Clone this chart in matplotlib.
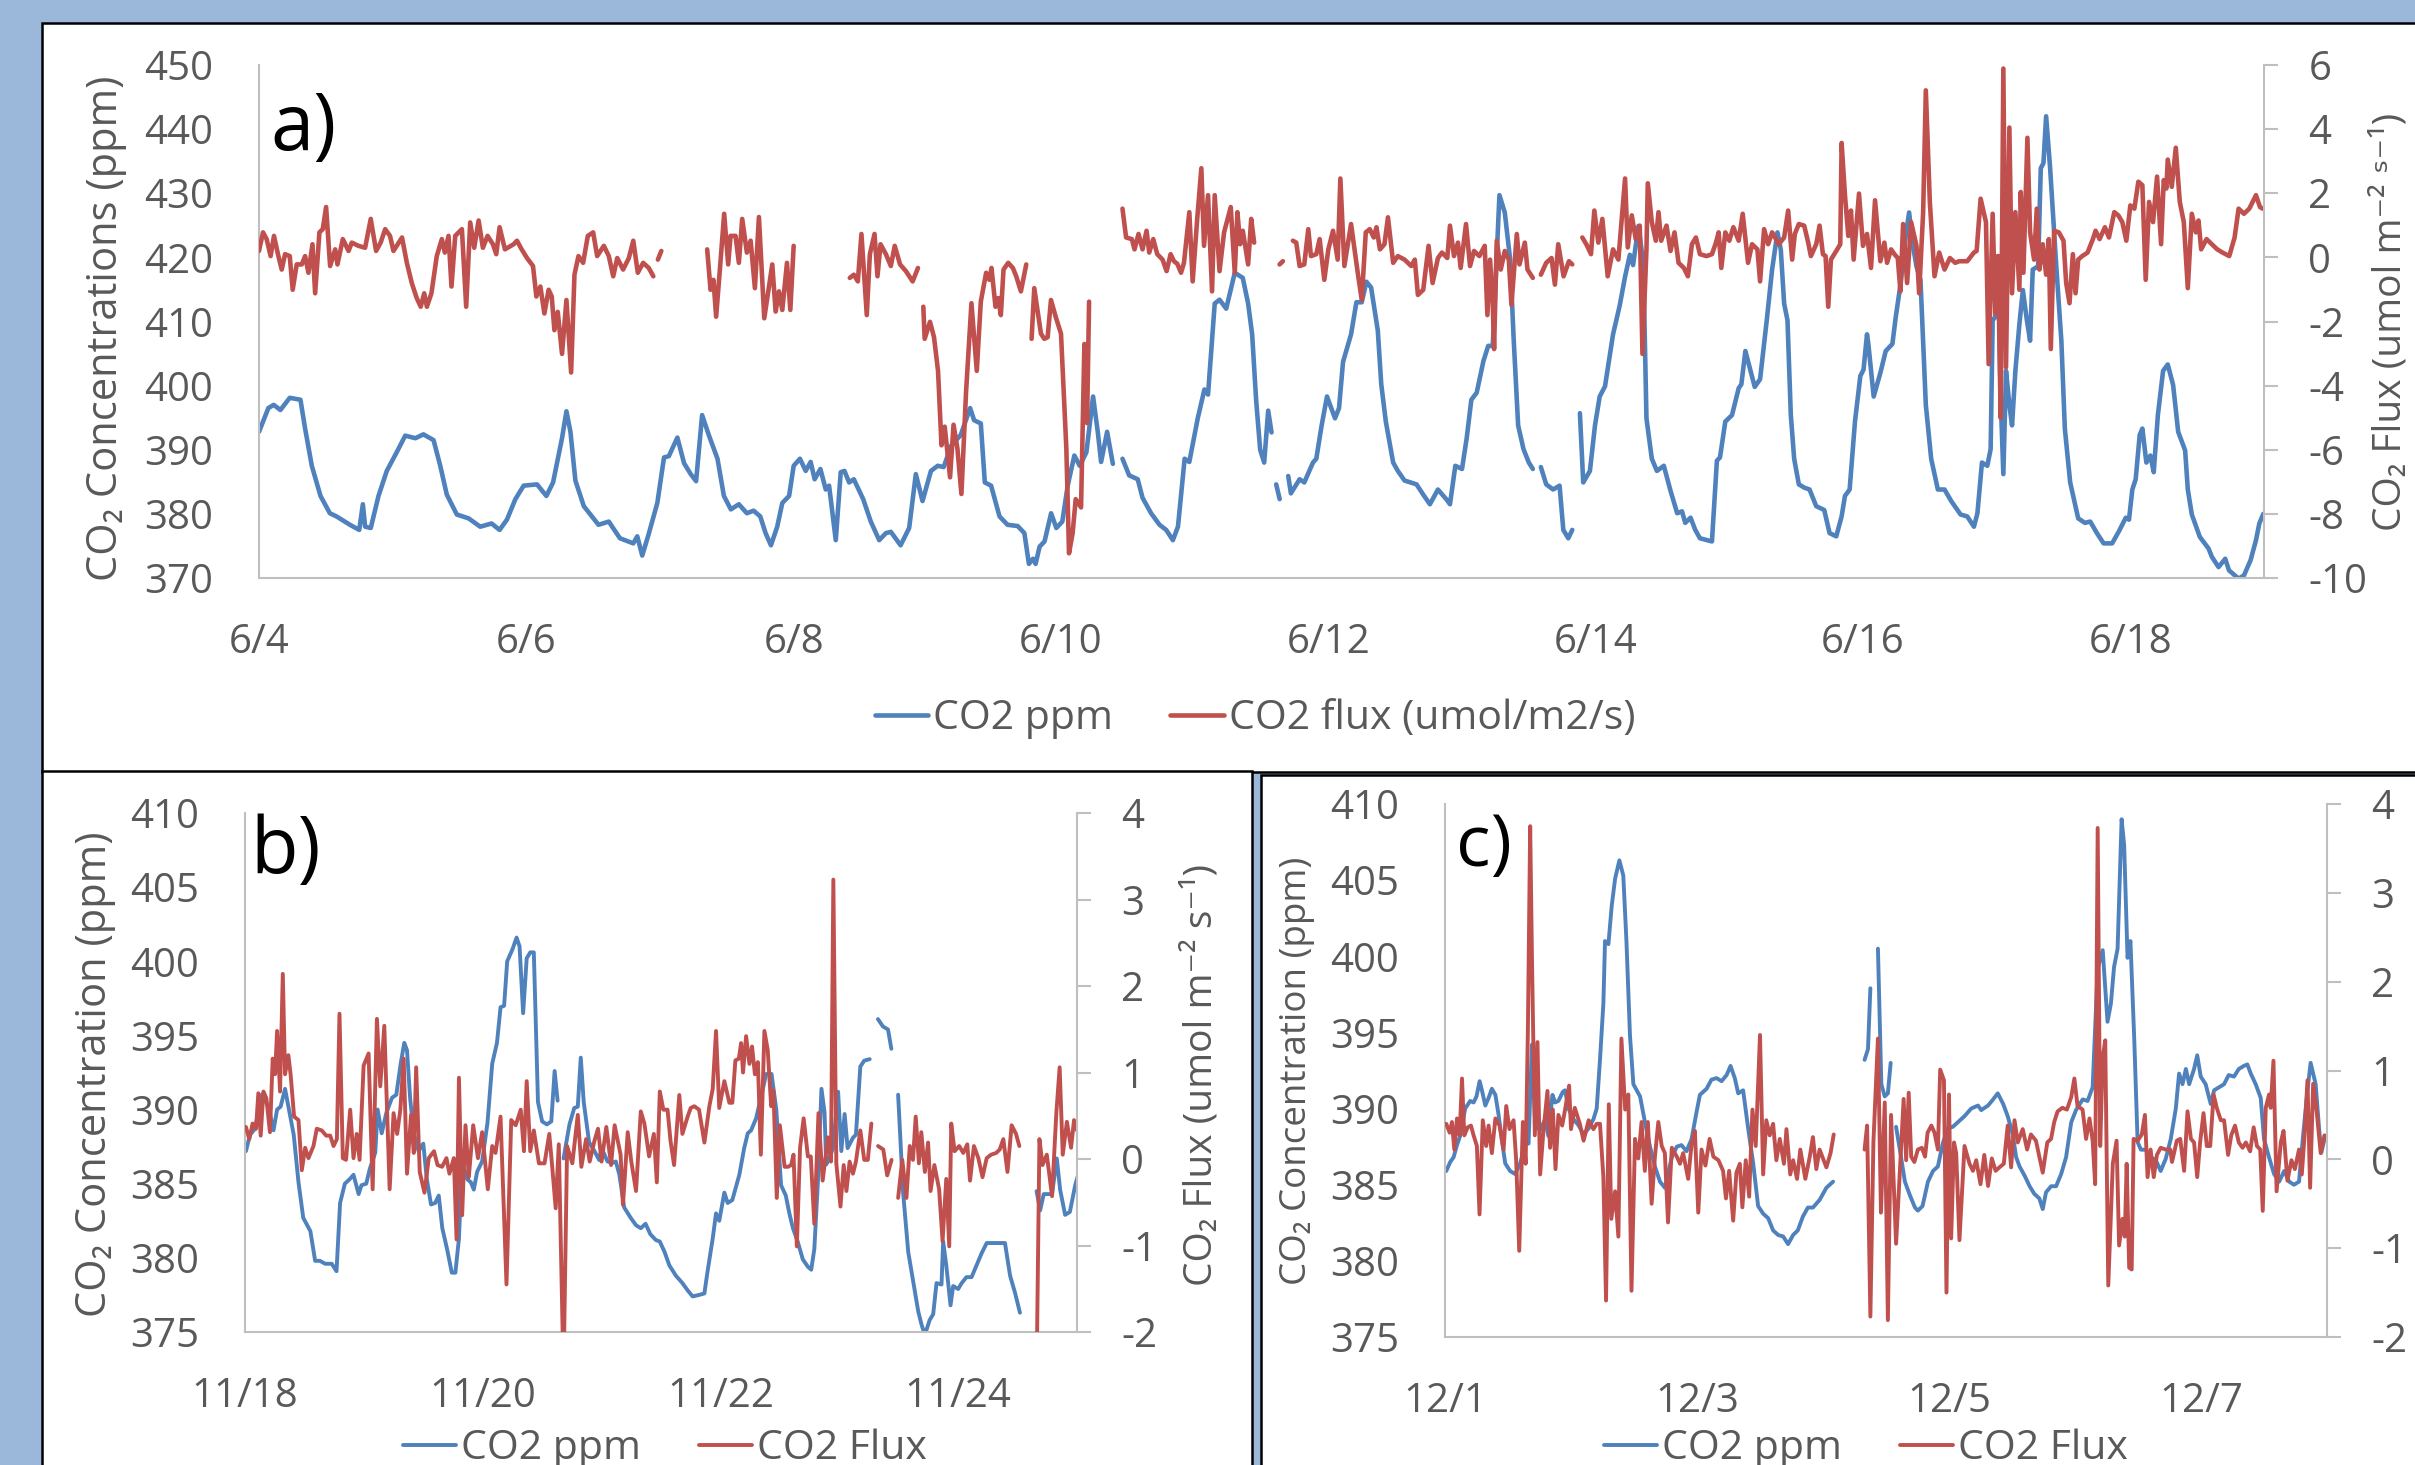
import numpy as np
import matplotlib
matplotlib.use('Agg')
import matplotlib.pyplot as plt
from matplotlib.patches import Rectangle

plt.rcParams['font.family'] = ['Open Sans', 'DejaVu Sans']
plt.rcParams['axes.unicode_minus'] = False

W, H = 2415, 1465
BG = '#9bb8db'
BLUE = '#4f81bd'
RED = '#c0504d'
GREY = '#595959'
AXIS = '#bfbfbf'

# ---------------- panel a: June (days after 6/4 00:00) ----------------
a_ticks = [0, 2, 4, 6, 8, 10, 12, 14]
a_tick_labels = ['6/4', '6/6', '6/8', '6/10', '6/12', '6/14', '6/16', '6/18']

a_ppm_t = [0.00, 0.07, 0.11, 0.16, 0.23, 0.31, 0.345, 0.395, 0.46, 0.53, 0.58, 0.68, 0.75, 0.777, 0.794,
           0.836, 0.894, 0.956, 1.03, 1.094, 1.17, 1.23, 1.306, 1.356, 1.405, 1.48, 1.568, 1.655, 1.74,
           1.80, 1.855, 1.918, 1.98, 2.08, 2.15, 2.20, 2.267, 2.30, 2.33, 2.367, 2.43, 2.54, 2.617, 2.70,
           2.80, 2.83, 2.867, 2.916, 2.98, 3.03, 3.066, 3.13, 3.18, 3.23, 3.27, 3.315, 3.365, 3.43, 3.478,
           3.53, 3.59, 3.65, 3.70, 3.75, 3.79, 3.83, 3.877, 3.915, 3.966, 4.00, 4.047, 4.09, 4.127, 4.157,
           4.20, 4.24, 4.265, 4.315, 4.352, 4.38, 4.415, 4.45, 4.52, 4.577, 4.64, 4.69, 4.727, 4.80, 4.864,
           4.914, 4.964, 5.027, 5.078, 5.122, 5.18, 5.25, 5.32, 5.35, 5.40, 5.43, 5.477, 5.54, 5.60, 5.676,
           5.726, 5.76, 5.79, 5.81, 5.84, 5.877, 5.926, 5.965, 6.01, 6.05, 6.10, 6.14, 6.19, 6.24, 6.275,
           6.30, 6.345, 6.388, 6.42, 6.46, 6.51, 6.574, 6.61, 6.674, 6.737, 6.787, 6.837, 6.875, 6.925,
           6.96, 7.023, 7.073, 7.10, 7.15, 7.186, 7.236, 7.30, 7.36, 7.40, 7.43, 7.46, 7.49, 7.52, 7.55,
           7.575, 7.59, 7.61, 7.636, 7.67, 7.70, 7.72, 7.785, 7.82, 7.885, 7.91, 7.95, 7.99, 8.05, 8.08,
           8.11, 8.17, 8.21, 8.25, 8.285, 8.32, 8.37, 8.396, 8.43, 8.485, 8.52, 8.57, 8.66, 8.71, 8.76,
           8.82, 8.886, 8.91, 8.95, 9.00, 9.035, 9.07, 9.11, 9.16, 9.196, 9.23, 9.28, 9.32, 9.36, 9.386,
           9.42, 9.46, 9.50, 9.53, 9.56, 9.59, 9.63, 9.682, 9.73, 9.758, 9.795, 9.825, 9.85, 9.882, 9.907,
           9.957, 9.995, 10.03, 10.07, 10.13, 10.18, 10.22, 10.256, 10.28, 10.32, 10.356, 10.38, 10.42,
           10.458, 10.51, 10.56, 10.61, 10.646, 10.67, 10.71, 10.745, 10.78, 10.87, 10.907, 10.93, 10.97,
           11.02, 11.07, 11.09, 11.12, 11.15, 11.19, 11.23, 11.28, 11.32, 11.36, 11.385, 11.41, 11.435,
           11.46, 11.485, 11.52, 11.56, 11.60, 11.65, 11.71, 11.75, 11.80, 11.84, 11.865, 11.90, 11.94,
           11.98, 12.004, 12.03, 12.04, 12.08, 12.13, 12.17, 12.22, 12.245, 12.28, 12.32, 12.345, 12.37,
           12.40, 12.43, 12.47, 12.51, 12.56, 12.61, 12.66, 12.73, 12.78, 12.83, 12.856, 12.89, 12.93,
           12.955, 12.97, 12.99, 13.01, 13.03, 13.05, 13.07, 13.095, 13.115, 13.14, 13.17, 13.196, 13.226,
           13.25, 13.27, 13.31, 13.33, 13.35, 13.37, 13.40, 13.446, 13.484, 13.51, 13.55, 13.61, 13.66,
           13.70, 13.75, 13.80, 13.864, 13.915, 13.966, 13.99, 14.015, 14.04, 14.07, 14.09, 14.12, 14.15,
           14.175, 14.206, 14.245, 14.28, 14.32, 14.358, 14.41, 14.43, 14.46, 14.52, 14.585, 14.61, 14.66,
           14.71, 14.738, 14.81, 14.85, 14.90, 14.94, 14.965, 14.995]
a_ppm = [392.8, 396.5, 397.0, 396.2, 398.1, 397.8, 393.3, 387.5, 382.8, 380.1, 379.6, 378.3, 377.5, 381.5, 378.0,
         377.8, 382.8, 386.7, 389.6, 392.2, 391.8, 392.4, 391.5, 387.5, 383.0, 379.9, 379.3, 378.0, 378.5,
         377.5, 379.1, 382.3, 384.4, 384.6, 382.8, 384.9, 391.8, 396.0, 392.8, 385.2, 381.2, 378.3, 378.8, 376.2,
         375.4, 376.5, 373.5, 376.9, 381.7, 388.8, 389.0, 391.9, 387.9, 386.2, 385.1, 395.4, 392.3, 388.6, 382.8,
         380.7, 381.5, 380.1, 380.5, 379.6, 377.0, 375.1, 378.0, 381.7, 382.8, 387.5, 388.6, 386.7, 388.1, 385.4,
         387.0, 383.8, 384.4, 375.9, 386.5, 386.7, 384.9, 385.4, 382.3, 378.8, 375.9, 377.0, 377.2, 375.1, 377.8,
         386.2, 382.0, 386.7, 387.5, 387.3, 390.7, 392.3, 396.5, 394.6, 394.1, 384.9, 384.4, 379.6, 378.3, 378.1,
         377.0, 372.2, 373.0, 372.2, 374.9, 375.7, 380.1, 377.8, 378.8, 384.4, 389.1, 387.5, 389.6, 398.3, 392.8,
         388.1, 392.8, 387.8, None, 388.6, 386.0, 385.4, 382.5, 380.1, 378.3, 377.5, 375.9, 378.0, 388.6,
         388.1, 394.9, 399.4, 398.6, 412.8, 413.4, 412.0, 417.6, 416.8, 412.8, 408.0, 397.7, 390.0, 388.0, 396.1,
         392.7, None, 384.6, 382.3, None, 385.9, 383.2, 385.4, 384.9, 388.0, 388.6, 393.8, 398.3, 394.9, 396.5,
         403.7, 408.0, 413.0, 413.0, 416.2, 415.3, 408.6, 400.2, 394.4, 388.0, 386.7, 385.2, 384.6, 383.0, 381.5,
         383.8, 382.2, 381.5, 387.5, 387.0, 391.8, 397.8, 398.9, 403.8, 406.2, 406.2, 429.7, 427.0, 419.7, 407.5,
         393.8, 390.1, 388.0, 387.0, None, 387.3, 384.6, 383.8, 384.4, 377.5, 376.2, 377.5, None, 395.7, 384.9,
         386.7, 393.8, 398.3, 399.9, 408.0, 412.5, 417.0, 420.4, 418.8, 424.9, 419.1, 394.9, 388.6,
         386.7, 387.5, 383.6, 380.1, 380.4, 378.6, 379.4, 377.5, 376.2, 375.7, 388.3, 388.8, 394.4,
         395.4, 399.6, 400.2, 405.4, 403.0, 399.8, 401.0, 410.2, 418.1, 423.9, 421.2, 412.8, 410.2,
         395.4, 388.6, 384.6, 384.1, 383.8, 381.2, 380.6, 377.0, 376.5, 379.6, 382.8, 383.8, 394.4,
         401.5, 402.5, 408.0, 406.5, 398.3, 402.0, 405.4, 406.5, 410.7, 415.7, 423.4, 427.0, 422.3,
         418.6, 416.5, 397.0, 388.6, 383.8, 383.8, 382.0, 379.9, 379.6, 378.0, 380.1, 388.0, 387.5,
         390.1, 410.2, 410.7, 420.2, 398.0, 386.2, 402.3, 397.0, 393.8, 402.3, 409.6, 414.9, 410.2,
         407.0, 418.1, 418.6, 433.9, 434.7, 442.0, 433.9, 418.6, 407.0, 393.3, 384.9, 379.3, 378.6,
         378.8, 377.0, 375.4, 375.4, 377.3, 379.4, 379.1, 383.8, 385.4, 392.3, 393.3, 388.0, 389.1,
         386.5, 395.4, 402.3, 403.3, 400.1, 392.8, 389.9, 383.8, 379.9, 376.4, 374.6, 373.3, 371.7,
         373.0, 371.2, 369.9, 370.4, 372.8, 375.9, 378.5, 380.0]

a_flux_t = [0.00, 0.03, 0.057, 0.087, 0.112, 0.145, 0.17, 0.195, 0.23, 0.252, 0.282, 0.32, 0.345, 0.37, 0.40,
            0.42, 0.452, 0.477, 0.502, 0.532, 0.57, 0.587, 0.627, 0.67, 0.694, 0.744, 0.794, 0.836, 0.876,
            0.91, 0.944, 0.98, 1.006, 1.07, 1.106, 1.143, 1.18, 1.21, 1.236, 1.256, 1.29, 1.33, 1.368, 1.39,
            1.418, 1.44, 1.468, 1.518, 1.55, 1.58, 1.61, 1.643, 1.675, 1.71, 1.75, 1.775, 1.80, 1.84, 1.905,
            1.93, 1.965, 2.005, 2.05, 2.075, 2.105, 2.135, 2.167, 2.19, 2.21, 2.235, 2.267, 2.30, 2.335, 2.36,
            2.39, 2.425, 2.46, 2.50, 2.53, 2.58, 2.617, 2.65, 2.68, 2.724, 2.767, 2.80, 2.834, 2.874, 2.916,
            2.95, 2.97, 2.984, 3.01, 3.2, 3.353, 3.378, 3.40, 3.42, 3.45, 3.48, 3.51, 3.528, 3.565, 3.59,
            3.615, 3.65, 3.678, 3.71, 3.74, 3.78, 3.84, 3.865, 3.89, 3.915, 3.95, 3.975, 4.00, 4.2, 4.42,
            4.45, 4.48, 4.507, 4.547, 4.57, 4.605, 4.627, 4.65, 4.69, 4.727, 4.756, 4.796, 4.84, 4.89, 4.93,
            4.95, 4.97, 4.98, 5.02, 5.05, 5.08, 5.106, 5.13, 5.17, 5.196, 5.225, 5.255, 5.29, 5.33, 5.37,
            5.40, 5.44, 5.464, 5.48, 5.51, 5.53, 5.55, 5.57, 5.605, 5.64, 5.665, 5.70, 5.74, 5.76, 5.78,
            5.80, 5.85, 5.875, 5.90, 5.925, 5.96, 6.00, 6.04, 6.06, 6.087, 6.11, 6.15, 6.175, 6.195, 6.21,
            6.3, 6.46, 6.487, 6.53, 6.55, 6.58, 6.61, 6.64, 6.66, 6.69, 6.72, 6.76, 6.79, 6.82, 6.845, 6.87,
            6.898, 6.92, 6.96, 6.985, 7.02, 7.05, 7.07, 7.10, 7.13, 7.15, 7.186, 7.22, 7.27, 7.30, 7.32,
            7.34, 7.36, 7.40, 7.423, 7.445, 7.55, 7.635, 7.66, 7.70, 7.735, 7.76, 7.785, 7.82, 7.85, 7.87,
            7.91, 7.935, 7.97, 8.00, 8.035, 8.07, 8.09, 8.12, 8.17, 8.22, 8.25, 8.28, 8.31, 8.34, 8.36,
            8.386, 8.42, 8.446, 8.485, 8.52, 8.57, 8.62, 8.647, 8.67, 8.71, 8.75, 8.78, 8.82, 8.85, 8.89,
            8.91, 8.94, 8.97, 8.99, 9.03, 9.06, 9.09, 9.13, 9.17, 9.19, 9.21, 9.23, 9.24, 9.26, 9.29, 9.32,
            9.35, 9.37, 9.41, 9.43, 9.47, 9.49, 9.53, 9.56, 9.59, 9.63, 9.67, 9.695, 9.72, 9.76, 9.80,
            9.825, 9.86, 9.90, 9.93, 9.965, 9.99, 10.02, 10.05, 10.09, 10.13, 10.17, 10.22, 10.24, 10.27,
            10.30, 10.33, 10.35, 10.38, 10.39, 10.42, 10.45, 10.47, 10.49, 10.53, 10.56, 10.59, 10.62,
            10.66, 10.69, 10.72, 10.75, 10.78, 10.83, 10.87, 10.90, 10.92, 10.94, 10.97, 11.00, 11.03,
            11.07, 11.10, 11.14, 11.17, 11.21, 11.23, 11.26, 11.29, 11.32, 11.37, 11.41, 11.44, 11.47,
            11.49, 11.52, 11.56, 11.59, 11.61, 11.65, 11.675, 11.70, 11.72, 11.74, 11.76, 11.80, 11.83,
            11.84, 11.865, 11.89, 11.91, 11.93, 11.97, 12.00, 12.03, 12.06, 12.09, 12.13, 12.16, 12.18,
            12.21, 12.235, 12.26, 12.28, 12.30, 12.33, 12.36, 12.40, 12.42, 12.45, 12.47, 12.50, 12.535,
            12.57, 12.61, 12.65, 12.69, 12.72, 12.78, 12.83, 12.85, 12.88, 12.92, 12.94, 12.97, 12.99,
            13.01, 13.03, 13.05, 13.07, 13.095, 13.115, 13.14, 13.17, 13.18, 13.20, 13.23, 13.25, 13.28,
            13.30, 13.32, 13.345, 13.37, 13.39, 13.405, 13.43, 13.465, 13.50, 13.52, 13.545, 13.57, 13.59,
            13.61, 13.64, 13.68, 13.72, 13.74, 13.77, 13.81, 13.84, 13.88, 13.91, 13.94, 13.97, 14.00,
            14.03, 14.06, 14.09, 14.115, 14.14, 14.17, 14.20, 14.23, 14.25, 14.27, 14.28, 14.31, 14.34,
            14.37, 14.40, 14.43, 14.46, 14.49, 14.51, 14.53, 14.57, 14.61, 14.65, 14.69, 14.74, 14.78,
            14.81, 14.85, 14.89, 14.94, 14.97, 14.99]
a_flux = [0.20, 0.78, 0.57, 0.04, 0.67, 0.04, -0.38, 0.10, 0.04, -1.01, -0.22, -0.22, 0.04, -0.48, 0.41,
          -1.12, 0.78, 0.88, 1.57, -0.27, 0.25, -0.22, 0.57, 0.20, 0.46, 0.36, 0.30, 1.20, 0.20,
          0.46, 0.88, 0.67, 0.20, 0.62, -0.17, -0.80, -1.27, -1.54, -1.12, -1.54, -1.12, 0.04, 0.57, 0.15,
          0.67, -0.91, 0.67, 0.88, -1.54, 1.09, 0.30, 1.15, 0.30, 0.67, 0.41, 0.10, 0.94, 0.25, 0.41,
          0.52, 0.25, -0.02, -0.27, -1.22, -0.91, -1.75, -1.01, -1.22, -2.27, -1.70, -3.01, -1.33, -3.59, -0.54,
          0.04, -0.17, 0.67, 0.78, 0.04, 0.36, 0.04, -0.59, -0.02, -0.38, -0.02, 0.52, -0.48, -0.17, -0.33,
          -0.59, None, -0.07, 0.20, None, 0.25, -1.01, -0.70, -1.85, -0.27, 1.36, -0.22, 0.67, 0.67, -0.17,
          1.20, 0.15, 0.52, -0.96, 1.26, -1.90, -0.22, -1.69, -1.06, -1.64, -0.17, -1.64, 0.36, None, -0.64,
          -0.54, -0.75, 0.73, -1.80, 0.10, 0.73, -0.59, 0.41, 0.10, -0.27, 0.36, -0.22, -0.43, -0.75, -0.33,
          None, -1.54, -2.54, -2.01, -2.49, -3.54, -5.86, -5.28, -6.86, -5.22, -5.96, -7.38, -4.17, -1.43, -3.54,
          -1.38, -0.48, -0.70, -0.33, -1.54, -1.27, -1.80, -0.38, -0.17, -0.33, -0.59, -1.06, -0.22, None, -2.54,
          -0.96, -2.38, -2.54, -2.49, -1.33, -1.85, -2.38, -5.96, -9.23, -8.60, -7.54, -7.80, -2.70, -5.17, -1.38,
          None, 1.52, 0.62, 0.57, 0.25, 0.73, 0.25, 0.83, 0.15, 0.57, 0.10, -0.07, -0.43, 0.10, -0.12, -0.20,
          -0.48, -0.17, 1.41, -0.75, 1.25, 2.78, 0.36, 1.94, -1.06, 1.94, -0.43, 0.78, 1.57, -0.48, 1.41,
          0.41, 0.83, -0.22, 1.20, 0.46, None, -0.22, -0.12, None, 0.52, 0.46, -0.27, -0.22, 0.88, 0.04,
          0.10, 0.57, -0.70, 0.25, 0.83, -0.07, 2.46, -0.27, 1.04, -0.48, -1.33, 0.78, 0.88, 0.62, 0.94,
          0.25, 0.41, 1.25, -0.17, 0.04, -0.07, -0.27, -0.07, -1.17, -1.01, 0.36, -0.80, -0.02, 0.15, -0.02,
          0.99, 0.04, 0.46, -0.33, 1.04, -0.27, 0.20, 0.04, 0.36, -1.80, -0.07, -1.43, -2.86, 0.52, -0.38, 0.20,
          -0.07, -1.48, 0.73, -0.22, 0.46, -0.38, -0.64, None, -0.54, -0.17, -0.02, -0.85, 0.41, -0.59, -0.12,
          -0.22, None, 0.62, 0.41, 0.10, 1.46, 0.46, 1.20, -0.59, 0.25, -0.07, 2.46, 0.31, 1.31,
          0.57, 0.99, -3.01, 0.25, 2.31, 1.10, 0.52, 1.41, 0.52, 0.99, 0.20, 0.78, -0.17,
          -0.33, -0.59, 0.41, 0.62, 0.10, 0.04, 0.10, 0.46, 0.78, -0.33, 0.78, 0.52, 0.94,
          0.52, 1.36, -0.17, 0.41, 0.25, -0.75, 0.88, 0.41, 0.78, 0.41, 0.62, 1.46, -0.07,
          0.73, 1.04, 0.99, 0.46, 0.04, 0.41, 0.99, 0.10, 0.04, -1.54, -0.07, 0.20, 0.41,
          3.57, 1.94, 0.67, 1.46, -0.07, 1.99, 0.36, 0.73, -0.33, 1.78, -0.12, 0.46, -0.17,
          0.25, 0.10, -0.02, -1.06, 1.04, -0.80, 1.10, 0.36, -1.12, 1.41, 5.21, 1.73, -0.59,
          0.15, -0.38, -0.02, -0.17, -0.12, -0.12, 0.15, 0.20, 1.83, 1.10, -3.33, 1.36, -1.75,
          0.04, -5.01, 5.89, -3.43, 4.05, -1.12, 1.41, -1.01, 2.04, -0.48, 3.73, 0.78, -0.07,
          1.52, -0.38, 0.41, -0.54, 0.57, -2.86, 0.83, 0.78, 0.52, -0.80, -1.43, 0.10, -1.12,
          -0.07, 0.04, 0.15, 0.57, 0.83, 0.57, 0.94, 0.62, 1.41, 1.31, 1.10, 0.52, 1.62,
          1.52, 2.36, 2.25, -0.70, 1.73, 1.10, 2.52, 0.41, 2.41, 2.15, 3.05, 2.20, 3.42,
          1.73, 1.10, -0.96, 1.36, 0.78, 1.15, 0.25, 0.57, 0.41, 0.25, 0.15, 0.04, 0.62,
          1.52, 1.36, 1.52, 1.94, 1.57, 1.52]

# ---------------- panel b: November (days after 11/18) ----------------
b_ticks = [0, 2, 4, 6]
b_tick_labels = ['11/18', '11/20', '11/22', '11/24']

b_ppm_t = [0.008, 0.042, 0.084, 0.14, 0.197, 0.24, 0.27, 0.30, 0.337, 0.365, 0.41, 0.45, 0.49, 0.55, 0.59,
           0.63, 0.675, 0.73, 0.77, 0.80, 0.84, 0.88, 0.913, 0.956, 0.98, 1.02, 1.05, 1.096, 1.116, 1.15,
           1.19, 1.237, 1.273, 1.31, 1.34, 1.363, 1.39, 1.42, 1.46, 1.50, 1.53, 1.565, 1.60, 1.63, 1.66,
           1.70, 1.74, 1.77, 1.80, 1.827, 1.87, 1.90, 1.925, 1.953, 1.995, 2.04, 2.08, 2.12, 2.15, 2.18,
           2.206, 2.25, 2.285, 2.31, 2.34, 2.37, 2.40, 2.43, 2.465, 2.50, 2.54, 2.577, 2.605, 2.63, 2.65,
           2.68, 2.73, 2.77, 2.80, 2.825, 2.85, 2.895, 2.94, 2.98, 3.00, 3.05, 3.09, 3.12, 3.15, 3.19,
           3.245, 3.29, 3.33, 3.37, 3.41, 3.457, 3.49, 3.53, 3.57, 3.625, 3.68, 3.725, 3.766, 3.82, 3.865,
           3.89, 3.935, 3.963, 3.99, 4.033, 4.061, 4.10, 4.159, 4.20, 4.23, 4.258, 4.30, 4.385, 4.43, 4.47,
           4.51, 4.55, 4.58, 4.61, 4.65, 4.693, 4.736, 4.764, 4.79, 4.82, 4.85, 4.876, 4.89, 4.918, 4.946,
           4.99, 5.017, 5.045, 5.07, 5.115, 5.14, 5.177, 5.21, 5.256, 5.29, 5.325, 5.368, 5.41, 5.438, 5.47,
           5.495, 5.537, 5.58, 5.62, 5.664, 5.692, 5.72, 5.76, 5.79, 5.818, 5.86, 5.874, 5.90, 5.936, 5.958,
           6.00, 6.03, 6.07, 6.113, 6.155, 6.197, 6.24, 6.295, 6.338, 6.394, 6.437, 6.48, 6.52, 6.6, 6.66,
           6.69, 6.72, 6.79, 6.83, 6.858, 6.90, 6.94, 6.985, 7.013]
b_ppm = [387.2, 388.3, 388.7, 391.0, 390.2, 388.6, 390.0, 390.2, 391.4, 390.2, 388.3, 385.1, 382.7, 381.8, 379.8,
         379.8, 379.6, 379.6, 379.1, 383.7, 385.0, 385.3, 385.6, 384.3, 384.9, 385.0, 386.0, 387.1, 390.0, 388.4,
         389.8, 390.8, 391.0, 393.1, 394.5, 394.0, 390.7, 388.4, 387.2, 387.7, 385.3, 383.6, 383.7, 384.2, 382.0,
         380.6, 379.0, 379.0, 381.3, 386.5, 385.3, 385.1, 384.6, 385.8, 386.5, 389.1, 393.1, 394.5, 396.9, 397.0,
         400.0, 400.8, 401.6, 401.0, 396.5, 400.2, 400.6, 400.6, 390.5, 389.2, 389.0, 389.2, 392.6, 390.6, None,
         386.7, 389.0, 390.1, 390.2, 393.5, 390.5, 387.8, 387.2, 386.6, 387.4, 386.5, 386.4, 386.5, 385.6, 383.4,
         382.7, 382.2, 382.0, 382.3, 381.6, 381.2, 381.1, 380.4, 379.5, 378.8, 378.3, 377.8, 377.4, 377.5, 377.6,
         379.0, 381.3, 383.0, 382.5, 384.4, 383.7, 383.9, 385.6, 387.4, 388.4, 388.6, 389.4, 392.4, 392.4, 390.0,
         384.9, 384.2, 383.0, 382.0, 381.1, 379.9, 379.4, 379.2, 380.6, 385.1, 391.4, 389.8, 386.3, 386.7, 387.4,
         391.2, 387.2, 389.7, 387.4, 388.1, 388.3, 392.9, 393.3, 393.4, None, 396.1, 395.6, 395.4, 394.1, None,
         391.0, 384.4, 380.4, 378.5, 376.4, 375.5, 374.8, 375.8, 376.2, 378.3, 378.2, 381.1, 379.5, 376.8, 378.1,
         377.9, 378.3, 378.7, 378.7, 379.5, 380.3, 381.0, 381.0, 381.0, 381.0, 378.8, 377.6, 376.3, None, 384.5,
         383.2, 384.3, 384.3, 386.7, 384.6, 382.9, 383.1, 384.9, 385.7]

b_flux_t = [0.008, 0.036, 0.064, 0.093, 0.112, 0.132, 0.155, 0.18, 0.21, 0.233, 0.253, 0.27, 0.295, 0.318, 0.337,
            0.365, 0.385, 0.413, 0.45, 0.478, 0.506, 0.534, 0.576, 0.604, 0.646, 0.683, 0.717, 0.745, 0.773,
            0.795, 0.823, 0.85, 0.885, 0.913, 0.94, 0.964, 0.998, 1.04, 1.074, 1.11, 1.138, 1.172, 1.217, 1.25,
            1.28, 1.307, 1.335, 1.363, 1.397, 1.42, 1.44, 1.47, 1.51, 1.546, 1.59, 1.62, 1.658, 1.695, 1.72,
            1.757, 1.78, 1.80, 1.827, 1.855, 1.883, 1.92, 1.96, 1.995, 2.043, 2.08, 2.108, 2.15, 2.20, 2.24,
            2.277, 2.32, 2.347, 2.37, 2.40, 2.43, 2.473, 2.52, 2.56, 2.586, 2.614, 2.64, 2.68, 2.71, 2.754,
            2.80, 2.83, 2.87, 2.90, 2.94, 2.97, 3.00, 3.04, 3.08, 3.11, 3.16, 3.18, 3.22, 3.25, 3.29, 3.33,
            3.36, 3.40, 3.44, 3.465, 3.49, 3.52, 3.555, 3.58, 3.61, 3.654, 3.68, 3.724, 3.75, 3.78, 3.82,
            3.865, 3.907, 3.935, 3.963, 3.99, 4.033, 4.075, 4.10, 4.126, 4.155, 4.174, 4.19, 4.216, 4.244,
            4.266, 4.29, 4.315, 4.34, 4.37, 4.398, 4.427, 4.446, 4.474, 4.50, 4.54, 4.57, 4.595, 4.615, 4.643,
            4.67, 4.70, 4.736, 4.76, 4.79, 4.825, 4.86, 4.905, 4.93, 4.95, 4.975, 5.01, 5.037, 5.06, 5.087,
            5.115, 5.14, 5.177, 5.21, 5.24, 5.27, 5.30, 5.326, 5.37, 5.403, 5.44, 5.47, 5.495, 5.53, 5.565,
            5.593, 5.62, 5.643, 5.67, 5.69, 5.72, 5.747, 5.768, 5.80, 5.84, 5.869, 5.90, 5.925, 5.942, 5.97,
            6.009, 6.043, 6.077, 6.10, 6.133, 6.17, 6.205, 6.24, 6.277, 6.32, 6.35, 6.38, 6.415, 6.45, 6.487,
            6.515, 6.6, 6.66, 6.684, 6.71, 6.746, 6.79, 6.826, 6.854, 6.88, 6.915, 6.95, 6.975, 7.00]
b_flux = [0.37, 0.23, 0.41, 0.35, 0.76, 0.27, 0.78, 0.70, 0.31, 1.16, 0.98, 1.48, 0.78, 2.14, 0.98,
          1.20, 0.96, 0.49, 0.45, -0.13, 0.13, 0.01, 0.15, 0.35, 0.33, 0.27, 0.27, 0.15, 0.23,
          1.68, 0.01, -0.01, 0.57, 0.01, 0.29, -0.01, 1.08, 1.22, -0.35, 1.62, 0.84, 1.54, -0.35, 0.53,
          0.29, 0.57, 1.16, -0.17, 0.51, 0.07, 1.06, -0.15, -0.39, 0.01, 0.09, -0.07, -0.09, 0.01, -0.17,
          0.01, -0.93, 0.94, -0.65, 0.39, -0.21, 0.39, 0.01, 0.31, -0.35, 0.15, 0.07, 0.49, -1.45, 0.45,
          0.39, 0.57, 0.09, 0.90, 0.09, 0.33, -0.05, -0.05, 0.29, -0.11, -0.57, 0.17, -2.5, 0.15, -0.05,
          0.51, -0.09, 0.23, -0.03, 0.21, 0.35, -0.03, 0.37, -0.07, 0.39, 0.05, -0.53, 0.31, -0.03, -0.37, 0.55,
          0.41, 0.03, 0.29, -0.27, 0.78, 0.57, 0.57, 0.21, -0.07, 0.74, 0.29, 0.49, 0.59, 0.61, 0.57,
          0.19, 0.61, 0.81, 1.48, 0.59, 0.90, 0.65, 0.65, 1.14, 1.16, 1.34, 1.00, 1.42, 1.10,
          1.30, 0.98, 1.12, 0.05, 1.48, 1.26, 0.61, 0.79, -0.45, 0.39, -0.09, -0.09, -0.07, 0.05, -1.01,
          0.13, 0.47, 0.03, 0.03, -0.75, 0.53, -0.25, 0.25, -0.03, 3.23, -0.05, -0.55, -0.07, -0.37, -0.03,
          -0.17, -0.03, 0.33, -0.01, -0.01, 0.41, None, 0.15, 0.11, -0.19, -0.01, None, -0.45, -0.01, -0.45,
          0.15, -0.01, 0.49, -0.05, 0.31, -0.15, 0.19, -0.37, -0.07, -0.35, -0.95, -0.23, -1.01, 0.41, 0.09,
          0.15, 0.07, 0.17, -0.25, 0.15, 0.01, -0.21, 0.01, 0.05, 0.07, 0.11, 0.23, -0.15, 0.39, 0.29,
          0.15, None, -2.5, 0.23, -0.07, 0.05, -0.43, 0.53, 1.06, 0.05, 0.43, 0.13, 0.45, 0.33]

# ---------------- panel c: December (days after 12/1) ----------------
c_ticks = [0, 2, 4, 6]
c_tick_labels = ['12/1', '12/3', '12/5', '12/7']

c_ppm_t = [0.01, 0.042, 0.068, 0.095, 0.12, 0.16, 0.20, 0.227, 0.25, 0.275, 0.293, 0.32, 0.346, 0.372, 0.40,
           0.425, 0.45, 0.478, 0.517, 0.557, 0.597, 0.637, 0.663, 0.69, 0.716, 0.755, 0.795, 0.82, 0.853,
           0.874, 0.90, 0.935, 0.953, 0.98, 1.02, 1.06, 1.10, 1.14, 1.178, 1.204, 1.23, 1.257, 1.27, 1.297,
           1.323, 1.35, 1.384, 1.415, 1.44, 1.468, 1.495, 1.548, 1.587, 1.627, 1.666, 1.706, 1.745, 1.80,
           1.84, 1.877, 1.917, 1.957, 1.997, 2.023, 2.076, 2.115, 2.155, 2.195, 2.235, 2.266, 2.30, 2.327,
           2.366, 2.406, 2.446, 2.485, 2.525, 2.565, 2.604, 2.644, 2.684, 2.723, 2.763, 2.80, 2.84, 2.88,
           2.92, 2.973, 3.027, 3.08, 3.2, 3.33, 3.357, 3.376, 3.40, 3.436, 3.463, 3.49, 3.515, 3.537, 3.56,
           3.58, 3.61, 3.65, 3.69, 3.73, 3.753, 3.79, 3.833, 3.873, 3.912, 3.95, 3.99, 4.03, 4.07, 4.123,
           4.176, 4.23, 4.256, 4.31, 4.35, 4.387, 4.43, 4.466, 4.506, 4.533, 4.56, 4.60, 4.64, 4.677, 4.717,
           4.744, 4.77, 4.81, 4.85, 4.89, 4.929, 4.97, 5.008, 5.061, 5.10, 5.14, 5.18, 5.22, 5.258, 5.285,
           5.31, 5.338, 5.37, 5.39, 5.417, 5.44, 5.47, 5.497, 5.523, 5.56, 5.602, 5.642, 5.68, 5.72, 5.76,
           5.80, 5.826, 5.853, 5.88, 5.906, 5.945, 5.97, 5.998, 6.037, 6.077, 6.104, 6.143, 6.183, 6.22,
           6.262, 6.30, 6.34, 6.368, 6.395, 6.434, 6.474, 6.50, 6.54, 6.58, 6.62, 6.66, 6.70, 6.738, 6.778,
           6.81, 6.845, 6.87, 6.91, 6.937, 6.955, 6.98]
c_ppm = [385.9, 386.5, 386.8, 387.6, 388.2, 390.0, 390.5, 390.4, 390.8, 391.8, 391.2, 390.2, 390.7, 391.3, 390.9,
         389.6, 388.0, 386.4, 385.9, 385.7, 386.4, 387.7, 387.7, 394.2, 388.9, 388.6, 389.3, 388.2, 390.9,
         390.4, 390.5, 391.1, 391.2, 390.0, 389.3, 388.9, 388.3, 388.7, 389.3, 390.0, 393.2, 396.9, 401.0, 400.8,
         403.3, 405.1, 406.3, 405.3, 401.0, 394.8, 391.6, 390.8, 389.1, 387.5, 386.2, 385.2, 384.8, 386.8,
         387.5, 387.6, 387.2, 388.0, 389.8, 390.9, 391.3, 391.9, 392.0, 391.8, 392.2, 392.8, 392.0, 391.0,
         391.2, 388.7, 386.4, 383.6, 383.1, 382.8, 382.0, 381.7, 381.6, 381.1, 381.7, 382.0, 382.9, 383.5,
         383.5, 384.0, 384.8, 385.2, None, 393.2, 393.9, 397.9, None, 400.5, 391.6, 390.8, 391.0, 393.0, None,
         388.8, 387.3, 385.2, 384.3, 383.5, 383.3, 383.6, 385.2, 385.9, 386.2, 387.7, 388.7, 388.8, 389.1, 389.5,
         390.0, 390.2, 389.9, 390.2, 390.6, 391.0, 390.3, 389.5, 388.3, 386.8, 386.2, 385.6, 384.9, 384.4, 384.1,
         383.4, 384.5, 384.9, 384.9, 385.7, 386.8, 389.1, 389.9, 390.6, 390.5, 391.4, 399.2, 400.4, 395.7, 396.9,
         399.3, 400.5, 409.0, 407.3, 399.9, 401.0, 394.6, 387.8, 387.3, 387.3, 386.8, 386.6, 385.9, 386.7, 388.0,
         390.0, 392.3, 391.6, 392.6, 391.6, 392.6, 393.5, 392.1, 391.6, 390.3, 391.2, 391.4, 391.6, 392.2,
         392.1, 392.6, 392.8, 392.9, 392.3, 391.6, 390.7, 388.0, 386.8, 385.7, 385.2, 385.9, 385.2, 385.0, 385.2,
         388.2, 391.2, 393.0, 391.6, 388.7, 387.1, 388.0]

c_flux_t = [0.01, 0.037, 0.055, 0.074, 0.095, 0.116, 0.135, 0.153, 0.18, 0.206, 0.227, 0.253, 0.274, 0.30, 0.327,
            0.346, 0.372, 0.40, 0.433, 0.465, 0.486, 0.512, 0.544, 0.565, 0.589, 0.618, 0.64, 0.658, 0.676,
            0.69, 0.713, 0.734, 0.755, 0.78, 0.813, 0.834, 0.856, 0.877, 0.90, 0.93, 0.953, 0.985, 1.00, 1.03,
            1.07, 1.10, 1.14, 1.178, 1.204, 1.23, 1.257, 1.278, 1.30, 1.32, 1.35, 1.376, 1.40, 1.43, 1.455,
            1.48, 1.508, 1.534, 1.56, 1.586, 1.61, 1.64, 1.666, 1.693, 1.72, 1.745, 1.77, 1.80, 1.84, 1.865,
            1.89, 1.93, 1.957, 1.983, 2.01, 2.036, 2.067, 2.10, 2.13, 2.17, 2.207, 2.23, 2.255, 2.287, 2.313,
            2.34, 2.36, 2.387, 2.414, 2.44, 2.466, 2.50, 2.525, 2.55, 2.577, 2.604, 2.63, 2.657, 2.69, 2.71,
            2.74, 2.763, 2.794, 2.82, 2.86, 2.895, 2.92, 2.947, 2.973, 3.00, 3.027, 3.06, 3.085, 3.2, 3.33,
            3.35, 3.376, 3.40, 3.436, 3.46, 3.49, 3.515, 3.54, 3.58, 3.61, 3.64, 3.66, 3.68, 3.70, 3.725,
            3.753, 3.785, 3.81, 3.83, 3.86, 3.885, 3.912, 3.93, 3.96, 3.98, 4.00, 4.017, 4.04, 4.057, 4.083,
            4.123, 4.163, 4.19, 4.216, 4.25, 4.28, 4.31, 4.34, 4.37, 4.40, 4.435, 4.466, 4.493, 4.52, 4.546,
            4.585, 4.62, 4.65, 4.69, 4.717, 4.744, 4.78, 4.81, 4.835, 4.862, 4.90, 4.936, 4.97, 4.995, 5.02,
            5.06, 5.088, 5.115, 5.14, 5.16, 5.18, 5.20, 5.22, 5.24, 5.264, 5.30, 5.33, 5.35, 5.377, 5.395,
            5.41, 5.43, 5.45, 5.465, 5.497, 5.53, 5.555, 5.576, 5.60, 5.625, 5.65, 5.68, 5.72, 5.756, 5.77,
            5.808, 5.835, 5.866, 5.893, 5.92, 5.945, 5.97, 5.993, 6.02, 6.046, 6.073, 6.10, 6.125, 6.157,
            6.183, 6.215, 6.24, 6.27, 6.30, 6.33, 6.356, 6.39, 6.418, 6.444, 6.47, 6.49, 6.514, 6.54, 6.553,
            6.575, 6.60, 6.633, 6.655, 6.686, 6.718, 6.745, 6.778, 6.80, 6.82, 6.845, 6.866, 6.89, 6.918,
            6.95, 6.98]
c_flux = [0.40, 0.30, 0.42, 0.11, 0.46, 0.27, 0.91, 0.27, 0.36, 0.38, 0.27, 0.15, -0.62, 0.44, 0.15,
          0.38, 0.07, 0.46, 0.38, 0.11, 0.60, 0.34, 0.44, -0.01, -1.03, 0.42, -0.05, 1.48, 3.75,
          2.28, 0.27, 1.32, -0.17, 0.30, 0.77, 0.13, 0.56, -0.11, 0.50, 0.38, 0.56, 0.83, 0.34, 0.58,
          0.40, 0.21, 0.44, 0.34, 0.40, 0.40, -0.20, -1.59, 0.62, -0.67, -0.36, -0.87, 1.36, 0.56, 0.73,
          -1.48, 0.23, 0.01, 0.42, -0.13, 0.42, -0.50, 0.03, 0.42, 0.15, 0.07, -0.71, 0.13, 0.03, -0.05,
          0.07, -0.22, 0.17, 0.32, -0.60, 0.11, -0.07, 0.23, 0.03, -0.01, -0.13, -0.44, -0.13, -0.69, -0.15,
          -0.05, -0.54, -0.01, -0.42, 0.56, 0.15, 1.40, -0.17, 0.44, 0.27, 0.40, -0.01, 0.23, -0.05, 0.34,
          -0.17, -0.01, -0.22, 0.11, -0.22, 0.03, 0.25, -0.11, 0.11, 0.01, -0.09, 0.07, 0.28, None, 0.11,
          0.38, -1.77, 0.19, 1.36, -0.60, 0.64, -1.81, 0.50, -0.95, -0.13, 0.68, -0.01, 0.75, 0.03, -0.03,
          0.11, 0.13, 0.03, 0.30, 0.38, 0.30, 0.11, 1.01, 0.89, -1.50, 0.73, -0.89, 0.19, 0.07, -0.91,
          0.15, -0.05, -0.13, -0.01, -0.28, 0.05, -0.30, 0.01, -0.13, -0.09, -0.05, 0.38, -0.09, 0.44, 0.19,
          0.34, 0.11, 0.28, 0.21, 0.03, -0.15, 0.19, 0.23, 0.42, 0.54, 0.58, 0.56, 0.70, 0.91, 0.60,
          0.56, 0.23, 0.46, 0.21, -0.28, 3.73, 0.15, 1.15, 1.34, -1.42, -0.05, 0.21, -0.97, -0.67, -0.87,
          -0.05, -1.22, -1.24, 0.23, 0.21, 0.28, 0.50, -0.20, 0.11, -0.20, 0.05, 0.13, 0.11, 0.11, -0.03,
          0.21, 0.23, -0.13, 0.54, 0.23, 0.19, -0.20, 0.19, 0.52, 0.15, 0.15, 0.73, 0.58, 0.44,
          0.44, 0.05, 0.27, 0.38, 0.19, 0.13, 0.19, 0.09, 0.36, 0.15, 0.11, -0.58, 0.58, 0.73, 0.58,
          1.11, -0.36, 0.19, 0.32, -0.24, -0.01, -0.11, 0.11, -0.17, 0.23, 0.89, -0.32, 0.85, 0.54,
          0.07, 0.27]


def fig_box(left, top, right, bottom):
    """Pixel box (from the top-left corner) -> figure fraction rectangle."""
    return [left / W, 1 - bottom / H, (right - left) / W, (bottom - top) / H]


def draw_panel(fig, box, days, t_ppm, ppm, t_flux, flux, ticks, tick_labels,
               ppm_lim, ppm_step, flux_lim, flux_step, lw):
    ax = fig.add_axes(fig_box(*box))
    ax.patch.set_alpha(0)
    ax.plot(t_ppm, np.array(ppm, dtype=float), color=BLUE, lw=lw,
            solid_joinstyle='round', solid_capstyle='round')
    ax.set_xlim(0, days)
    ax.set_ylim(*ppm_lim)
    ax.set_yticks(np.arange(ppm_lim[0], ppm_lim[1] + 0.1, ppm_step))
    ax.set_xticks(ticks)
    ax.set_xticklabels(tick_labels)
    for s in ('top', 'right'):
        ax.spines[s].set_visible(False)
    for s in ('left', 'bottom'):
        ax.spines[s].set_color(AXIS)
        ax.spines[s].set_linewidth(1.5)
    ax.tick_params(length=0, labelsize=29, labelcolor=GREY)
    ax.tick_params(axis='y', pad=33)
    ax.tick_params(axis='x', pad=32)

    ax2 = ax.twinx()
    ax2.plot(t_flux, np.array(flux, dtype=float), color=RED, lw=lw,
             solid_joinstyle='round', solid_capstyle='round')
    ax2.set_ylim(*flux_lim)
    ax2.set_yticks(np.arange(flux_lim[0], flux_lim[1] + 0.1, flux_step))
    for s in ('top', 'left', 'bottom'):
        ax2.spines[s].set_visible(False)
    ax2.spines['right'].set_color(AXIS)
    ax2.spines['right'].set_linewidth(1.5)
    ax2.tick_params(axis='y', length=10, width=1.5, color=AXIS, pad=22,
                    labelsize=29, labelcolor=GREY)
    return ax, ax2


fig = plt.figure(figsize=(W / 100, H / 100), dpi=100, facecolor=BG)

# white chart frames with black borders
for x0, y0, x1, y1 in [(42, 23, 2440, 772), (42, 771, 1252, 1490), (1261, 775, 2440, 1490)]:
    fig.add_artist(Rectangle((x0 / W, 1 - y1 / H), (x1 - x0) / W, (y1 - y0) / H,
                             transform=fig.transFigure, facecolor='white', edgecolor='black',
                             lw=1.8, zorder=-5))

axa, axa2 = draw_panel(fig, (259, 65, 2264, 578), 15, a_ppm_t, a_ppm, a_flux_t, a_flux,
                       a_ticks, a_tick_labels, (370, 450), 10, (-10, 6), 2, 3.3)
axb, axb2 = draw_panel(fig, (245, 813, 1077, 1332), 7, b_ppm_t, b_ppm, b_flux_t, b_flux,
                       b_ticks, b_tick_labels, (375, 410), 5, (-2, 4), 1, 2.8)
axc, axc2 = draw_panel(fig, (1445, 804, 2327, 1337), 7, c_ppm_t, c_ppm, c_flux_t, c_flux,
                       c_ticks, c_tick_labels, (375, 410), 5, (-2, 4), 1, 2.8)

# axis titles
def side_label(x, y, text, size):
    fig.text(x / W, 1 - y / H, text, rotation=90, ha='center', va='center',
             fontsize=size, color=GREY)

side_label(106, 328, 'CO₂ Concentrations (ppm)', 30)
side_label(2390, 322, 'CO₂ Flux (umol m⁻² ˢ⁻¹)', 28)
side_label(95, 1074, 'CO₂ Concentration (ppm)', 30)
side_label(1201, 1075, 'CO₂ Flux (umol m⁻² s⁻¹)', 28)
side_label(1297, 1071, 'CO₂ Concentration (ppm)', 26.5)

# panel letters
for x, y, letter, size in [(270, 150, 'a)', 56), (250, 873, 'b)', 56), (1456, 866, 'c)', 52)]:
    fig.text(x / W, 1 - y / H, letter, fontsize=size, color='black', ha='left', va='baseline')

# legends below each chart
def bottom_legend(ax, ax2, labels, cx, cy):
    handles = [ax.get_lines()[0], ax2.get_lines()[0]]
    fig.legend(handles, labels, loc='center', bbox_to_anchor=(cx / W, 1 - cy / H),
               ncol=2, frameon=False, fontsize=29.5, labelcolor=GREY, handlelength=1.3,
               handletextpad=0.12, columnspacing=1.4, borderaxespad=0)

bottom_legend(axa, axa2, ['CO2 ppm', 'CO2 flux (umol/m2/s)'], 1255, 719)
bottom_legend(axb, axb2, ['CO2 ppm', 'CO2 Flux'], 665, 1449)
bottom_legend(axc, axc2, ['CO2 ppm', 'CO2 Flux'], 1866, 1449)

fig.savefig('out.png', dpi=100, facecolor=BG)
